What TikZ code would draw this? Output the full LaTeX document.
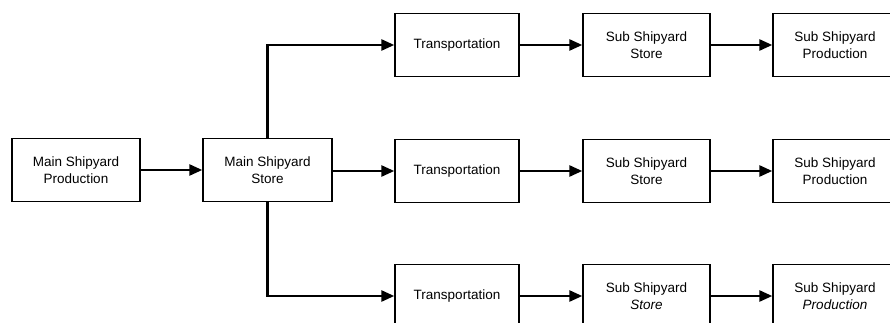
\documentclass[tikz,border=0pt]{standalone}
\usepackage{fontspec}
\setmainfont{Liberation Sans}
\usetikzlibrary{arrows.meta}
\begin{document}
\begin{tikzpicture}[x=1pt,y=-1pt,
  box/.style={draw, line width=1.4pt, minimum height=63pt, inner sep=0pt,
    align=center, font=\fontsize{13.5}{17}\selectfont},
  flow/.style={line width=2.6pt, -{Triangle[length=13pt,width=11pt]}}]
\useasboundingbox (0,0) rectangle (890,323);
\begin{scope}
\clip (0,0) rectangle (890,323);
% main shipyard
\node[box, minimum width=128pt] (mp) at (76,170) {Main Shipyard\\Production};
\node[box, minimum width=129pt] (ms) at (267.5,170) {Main Shipyard\\Store};
% three delivery routes
\foreach \r/\y in {t/45, m/171, b/296}{
  \node[box, minimum width=124pt] (tr\r) at (457,\y) {Transportation};
}
\node[box, minimum width=127pt] (sst) at (646.5,45) {Sub Shipyard\\Store};
\node[box, minimum width=127pt] (ssm) at (646.5,171) {Sub Shipyard\\Store};
\node[box, minimum width=127pt] (ssb) at (646.5,296) {Sub Shipyard\\\textit{Store}};
\node[box, minimum width=124pt] (spt) at (835,45) {Sub Shipyard\\Production};
\node[box, minimum width=124pt] (spm) at (835,171) {Sub Shipyard\\Production};
\node[box, minimum width=124pt] (spb) at (835,296) {Sub Shipyard\\\textit{Production}};
% connectors
\draw[flow] (mp.east) -- (ms.west);
\draw[flow] (ms.east |- trm.west) -- (trm.west);
\draw[flow] (ms.north) |- (trt.west);
\draw[flow] (ms.south) |- (trb.west);
\foreach \r in {t,m,b}{
  \draw[flow] (tr\r.east) -- (ss\r.west);
  \draw[flow] (ss\r.east) -- (sp\r.west);
}
\end{scope}
\end{tikzpicture}
\end{document}
